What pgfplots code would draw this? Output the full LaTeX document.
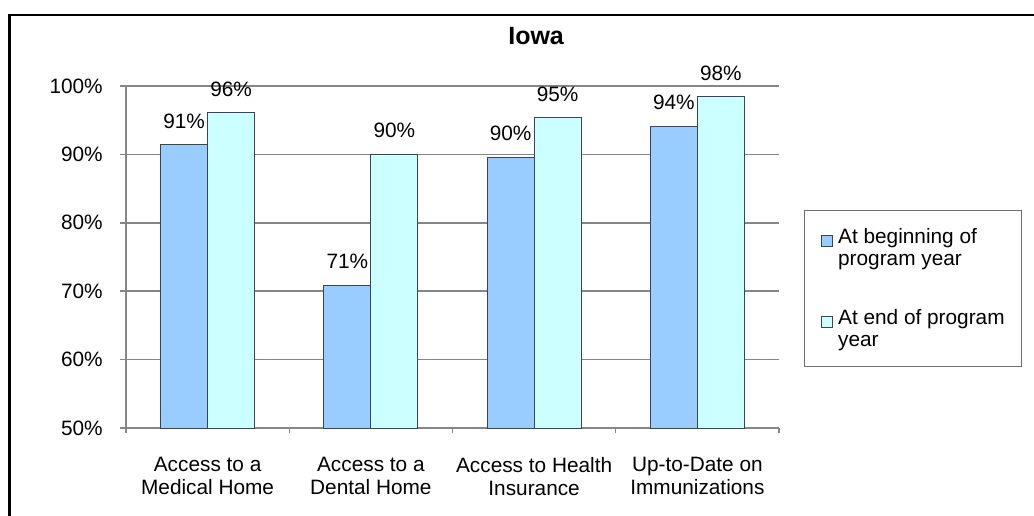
\documentclass[border=0pt]{standalone}
\usepackage{pgfplots}
\pgfplotsset{compat=1.18}
\usepackage{fontspec}
\setmainfont{Liberation Sans}
\definecolor{bBlue}{HTML}{99CCFF}
\definecolor{bCyan}{HTML}{CCFFFF}
\definecolor{bEdge}{HTML}{3A4550}
\definecolor{axGray}{HTML}{868686}
\definecolor{legGray}{HTML}{6E6E6E}
\begin{document}
\begin{tikzpicture}
\path[use as bounding box] (0,0) rectangle (775.5pt,-386.25pt);
\begin{axis}[
  at={(94.5pt,-321pt)}, anchor=south west,
  scale only axis, width=489.75pt, height=256.5pt,
  ymin=50, ymax=100, xmin=-0.5, xmax=3.5,
  ybar=0pt, bar width=35.25pt,
  /pgf/number format/assume math mode=true,
  axis lines*=left,
  axis line style={axGray, line width=1.1pt},
  ymajorgrids, grid style={axGray, line width=1.1pt},
  ytick={50,60,70,80,90,100},
  yticklabel={\pgfmathprintnumber{\tick}\%},
  xtick={0,1,2,3},
  xticklabels={{Access to a\\Medical Home},{Access to a\\Dental Home},{Access to Health\\Insurance},{Up-to-Date on\\Immunizations}},
  minor xtick={-0.5,0.5,1.5,2.5,3.5},
  major x tick style={draw=none},
  minor x tick style={axGray, line width=1.1pt},
  y tick style={axGray, line width=1.1pt},
  tick align=outside,
  major tick length=4.5pt, minor tick length=4pt,
  ticklabel style={font=\fontsize{15.6}{17.25}\selectfont},
  y tick label style={inner sep=0pt, anchor=east, xshift=-12.75pt},
  x tick label style={align=center, inner sep=0pt, anchor=north, yshift=-17.25pt},
  title={Iowa},
  title style={font=\bfseries\fontsize{18.75}{22}\selectfont, at={(0.628,1)}, anchor=base, yshift=25.5pt},
  nodes near coords={\pgfmathprintnumber[fixed,precision=0]{\pgfplotspointmeta}\%},
  every node near coord/.append style={font=\fontsize{15.6}{17.25}\selectfont, text=black, anchor=south, inner sep=0pt, yshift=11.8pt},
  legend style={at={(1.038,0.637)}, anchor=north west, draw=legGray, line width=0.8pt,
    inner xsep=12.75pt, inner ysep=13pt, column sep=3.75pt, row sep=31pt,
    font=\fontsize{15.6}{17}\selectfont, cells={align=left}, nodes={inner sep=0pt}},
  legend cell align=left,
  legend image code/.code={\draw[#1, line width=0.6pt] (0pt,1.5pt) rectangle (8.25pt,9.75pt);},
]
\addplot[fill=bBlue, draw=bEdge, line width=0.75pt] coordinates {(0,91.4) (1,70.9) (2,89.6) (3,94.1)};
\addlegendentry{At beginning of\\program year}
\addplot[fill=bCyan, draw=bEdge, line width=0.75pt] coordinates {(0,96.1) (1,90.0) (2,95.4) (3,98.4)};
\addlegendentry{At end of program\\year}
\end{axis}
\draw[black, line width=2.2pt] (7.1pt,-400pt) |- (800pt,-11.25pt);
\end{tikzpicture}
\end{document}
